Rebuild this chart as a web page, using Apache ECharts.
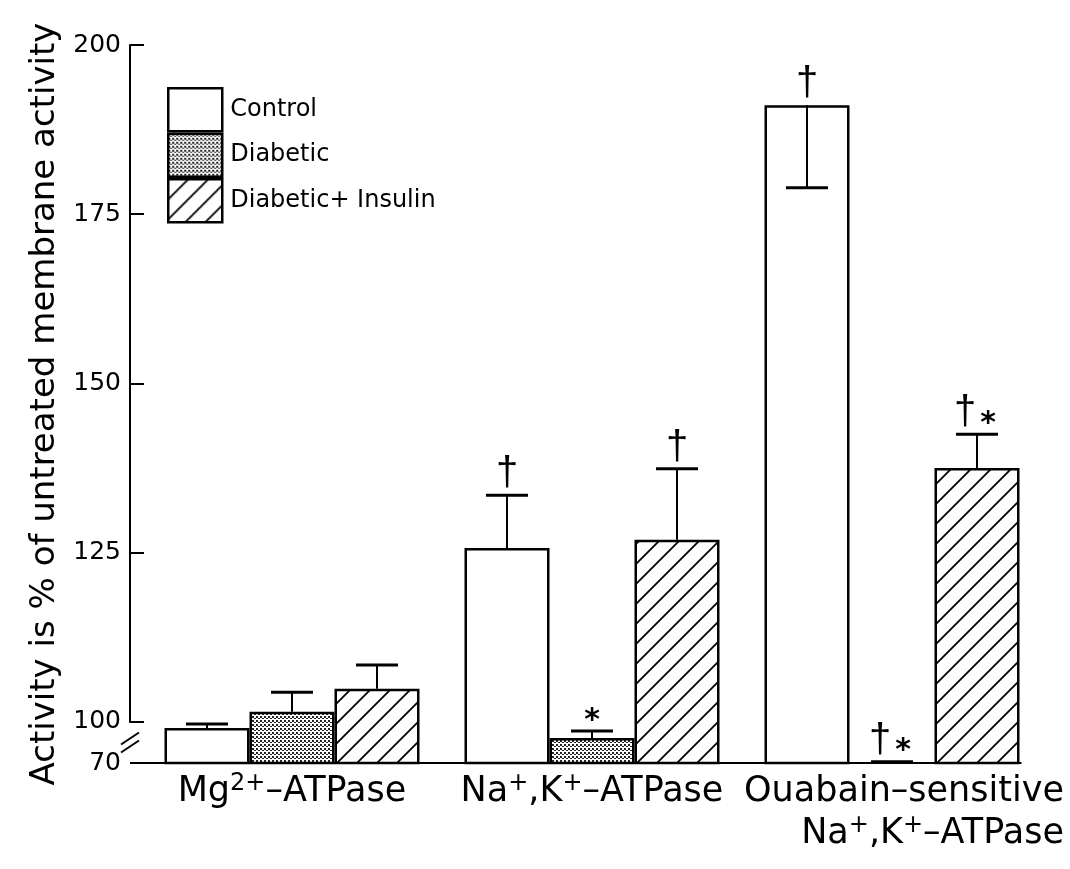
<!DOCTYPE html>
<html>
<head>
<meta charset="utf-8">
<script src="https://cdn.jsdelivr.net/npm/echarts@6/dist/echarts.min.js"></script>
<style>
  html, body { margin: 0; padding: 0; background: #fff; }
  #chart { width: 1070px; height: 869px; }
</style>
</head>
<body>
<div id="chart"></div>
<script>
// ATPase activity of treated membranes, as % of untreated membrane activity
const categories = ['Mg²⁺–ATPase', 'Na⁺,K⁺–ATPase', 'Ouabain–sensitive Na⁺,K⁺–ATPase'];
const seriesNames = ['Control', 'Diabetic', 'Diabetic+ Insulin'];

const controlValues  = [95.6, 125.7, 191.1];
const diabeticValues = [101.5, 88.3, 70.0];
const insulinValues  = [104.9, 126.9, 137.5];

// standard errors and the side of the bar top on which they are drawn
const controlSem  = [2.9, 7.8, 12.2];
const diabeticSem = [2.9, 5.1, 1.0];
const insulinSem  = [3.5, 10.5, 5.0];
const controlErrSide  = [1, 1, -1];
const diabeticErrSide = [1, 1, 1];
const insulinErrSide  = [1, 1, 1];

// significance markers
const controlMarks  = ['', '†', '†'];
const diabeticMarks = ['', '*', '†*'];
const insulinMarks  = ['', '†', '†*'];

const yTicks = [70, 100, 125, 150, 175, 200];

const FONT = '"DejaVu Sans", sans-serif';
const GRID_LEFT = 142, Y_OFFSET = 12, GRID_TOP = 45, GRID_BOTTOM = 106, GRID_RIGHT = 28;
const BAR_GAP_RATIO = 0.15;

// fill patterns
function stipplePattern() {
  const c = document.createElement('canvas');
  c.width = 4; c.height = 4;
  const g = c.getContext('2d');
  g.fillStyle = '#fff'; g.fillRect(0, 0, 4, 4);
  g.fillStyle = '#222';
  g.fillRect(0, 0, 2, 2);
  g.fillRect(2, 2, 2, 1);
  return { image: c, repeat: 'repeat' };
}
function hatchPattern() {
  const s = 20;
  const c = document.createElement('canvas');
  c.width = s; c.height = s;
  const g = c.getContext('2d');
  g.fillStyle = '#fff'; g.fillRect(0, 0, s, s);
  g.strokeStyle = '#000'; g.lineWidth = 1.8;
  g.beginPath();
  g.moveTo(-s, s); g.lineTo(s, -s);
  g.moveTo(0, s); g.lineTo(s, 0);
  g.moveTo(0, 2 * s); g.lineTo(2 * s, 0);
  g.stroke();
  return { image: c, repeat: 'repeat' };
}

const fills = ['#ffffff', stipplePattern(), hatchPattern()];
const valueSets = [controlValues, diabeticValues, insulinValues];
const semSets = [controlSem, diabeticSem, insulinSem];
const sideSets = [controlErrSide, diabeticErrSide, insulinErrSide];
const markSets = [controlMarks, diabeticMarks, insulinMarks];

const categoryRich = [
  '{t|Mg}{sup|2+}{t|–ATPase}',
  '{t|Na}{sup|+}{t|,K}{sup|+}{t|–ATPase}',
  '{r1|Ouabain–sensitive}\n{r|Na}{rsup|+}{r|,K}{rsup|+}{r|–ATPase}'
];

function barSeries(k) {
  return {
    type: 'bar',
    name: seriesNames[k],
    data: valueSets[k],
    barGap: '0%',
    barCategoryGap: (BAR_GAP_RATIO * 100) + '%',
    itemStyle: { color: fills[k], borderColor: '#000', borderWidth: 2.5 },
    emphasis: { disabled: true },
    z: 2
  };
}

function errorSeries(k) {
  const vals = valueSets[k], sem = semSets[k], side = sideSets[k], marks = markSets[k];
  return {
    type: 'custom',
    name: seriesNames[k] + ' SEM',
    data: vals.map((v, i) => [i, v, sem[i] * side[i]]),
    encode: { x: 0, y: 1 },
    z: 10,
    silent: true,
    renderItem(params, api) {
      const i = params.dataIndex;
      const band = api.size([1, 0])[0];
      const barW = band * (1 - BAR_GAP_RATIO) / 3;
      const top = api.coord([api.value(0), api.value(1)]);
      const end = api.coord([api.value(0), api.value(1) + api.value(2)]);
      const x = top[0] + (k - 1) * barW;
      const capHalf = 21;
      const children = [
        { type: 'line', shape: { x1: x, y1: top[1], x2: x, y2: end[1] }, style: { stroke: '#000', lineWidth: 2 } },
        { type: 'line', shape: { x1: x - capHalf, y1: end[1], x2: x + capHalf, y2: end[1] }, style: { stroke: '#000', lineWidth: 3 } }
      ];
      const m = marks[i];
      if (m) {
        const topY = Math.min(top[1], end[1]);
        const hasDagger = m.indexOf('†') >= 0, hasStar = m.indexOf('*') >= 0;
        if (hasDagger) {
          children.push({ type: 'text', style: {
            text: '†', x: x - (hasStar ? 12 : 0), y: topY - 21,
            align: 'center', verticalAlign: 'middle',
            font: '40px "Liberation Sans", sans-serif', fill: '#000' } });
        }
        if (hasStar) {
          children.push({ type: 'text', style: {
            text: '*', x: x + (hasDagger ? 11 : 0), y: topY - 10,
            align: 'center', verticalAlign: 'middle',
            font: 'bold 30px "DejaVu Sans", sans-serif', fill: '#000' } });
        }
      }
      return { type: 'group', children };
    }
  };
}

const chart = echarts.init(document.getElementById('chart'), null, { renderer: 'canvas' });

chart.setOption({
  animation: false,
  backgroundColor: '#fff',
  textStyle: { fontFamily: FONT, color: '#000' },
  grid: { left: GRID_LEFT, right: GRID_RIGHT, top: GRID_TOP, bottom: GRID_BOTTOM, containLabel: false },
  legend: {
    data: seriesNames,
    orient: 'vertical',
    left: 167, top: 87,
    padding: 0,
    itemGap: 0,
    itemWidth: 54, itemHeight: 43,
    icon: 'rect',
    selectedMode: false,
    itemStyle: { borderColor: '#000', borderWidth: 2.5 },
    textStyle: { fontFamily: FONT, fontSize: 24, color: '#000', padding: [0, 0, 0, 3] }
  },
  xAxis: {
    type: 'category',
    data: categories,
    axisLine: { show: true, lineStyle: { color: '#000', width: 2 } },
    axisTick: { show: false },
    axisLabel: {
      margin: 8,
      interval: 0,
      color: '#000',
      formatter: (v, i) => categoryRich[i],
      rich: {
        t: { fontFamily: FONT, fontSize: 35, color: '#000', lineHeight: 42 },
        sup: { fontFamily: FONT, fontSize: 24, color: '#000', padding: [0, 0, 16, 0], lineHeight: 42 },
        r1: { fontFamily: FONT, fontSize: 35, color: '#000', lineHeight: 42, align: 'right', padding: [0, 0, 0, 24] },
        r: { fontFamily: FONT, fontSize: 35, color: '#000', lineHeight: 42, align: 'right' },
        rsup: { fontFamily: FONT, fontSize: 24, color: '#000', padding: [0, 0, 16, 0], lineHeight: 42, align: 'right' }
      }
    }
  },
  yAxis: {
    type: 'value',
    min: 70, max: 200,
    offset: Y_OFFSET,
    breaks: [{ start: 70, end: 100, gap: 6.06 }],
    breakArea: { show: false },
    name: 'Activity is % of untreated membrane activity',
    nameLocation: 'middle',
    nameRotate: 90,
    nameGap: 60,
    nameTextStyle: { fontFamily: FONT, fontSize: 34, color: '#000' },
    axisLine: { show: true, lineStyle: { color: '#000', width: 2 } },
    axisTick: { show: true, inside: true, length: 14, customValues: yTicks.slice(1), lineStyle: { color: '#000', width: 2 } },
    axisLabel: { margin: 9, customValues: yTicks, fontFamily: FONT, fontSize: 25, color: '#000' },
    splitLine: { show: false }
  },
  series: [0, 1, 2].map(barSeries).concat([0, 1, 2].map(errorSeries))
});

// axis-break mark, base line running from the y axis to the last bar
const axisX = GRID_LEFT - Y_OFFSET;
const yMid = chart.convertToPixel({ yAxisIndex: 0 }, (yTicks[0] + yTicks[1]) / 2);
const yBase = chart.convertToPixel({ yAxisIndex: 0 }, yTicks[0]);
const plotW = 1070 - GRID_LEFT - GRID_RIGHT;
const lastBarRight = chart.convertToPixel({ xAxisIndex: 0 }, categories.length - 1) + (plotW / categories.length) * (1 - BAR_GAP_RATIO) / 2;
chart.setOption({
  graphic: [
    { type: 'line', shape: { x1: axisX, y1: yBase, x2: GRID_LEFT, y2: yBase }, style: { stroke: '#000', lineWidth: 2 }, z: 20 },
    { type: 'rect', shape: { x: lastBarRight + 2, y: yBase - 2, width: 1070 - lastBarRight, height: 4 }, style: { fill: '#fff' }, z: 20 },
    { type: 'rect', shape: { x: axisX - 2, y: yMid - 4, width: 4, height: 8 }, style: { fill: '#fff' }, z: 20 },
    { type: 'line', shape: { x1: axisX - 9, y1: yMid - 4 + 6, x2: axisX + 9, y2: yMid - 4 - 6 }, style: { stroke: '#000', lineWidth: 2 }, z: 21 },
    { type: 'line', shape: { x1: axisX - 9, y1: yMid + 4 + 6, x2: axisX + 9, y2: yMid + 4 - 6 }, style: { stroke: '#000', lineWidth: 2 }, z: 21 }
  ]
});
</script>
</body>
</html>
